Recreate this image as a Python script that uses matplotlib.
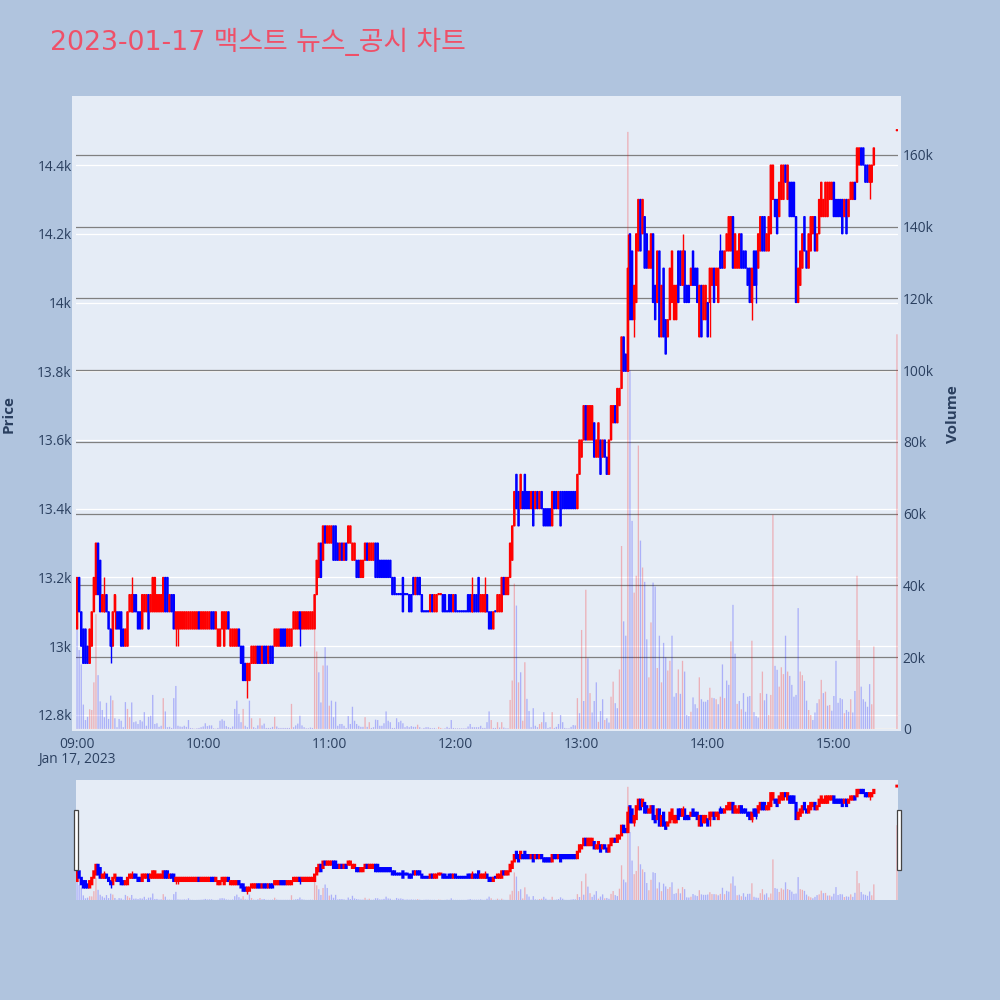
import matplotlib
matplotlib.use("Agg")
import matplotlib.pyplot as plt
from matplotlib.patches import Rectangle

# one candle per minute after 09:00, last one is the 15:30 closing auction
minutes = list(range(380)) + [390]

opens = [
    13050,13200,13100,13050,13050,13000,12950,13000,13100,13150,
    13300,13250,13100,13100,13150,13100,13050,13000,13100,13100,
    13100,13100,13050,13000,13000,13100,13100,13150,13150,13100,
    13100,13050,13100,13100,13150,13100,13100,13100,13100,13100,
    13100,13100,13200,13200,13100,13150,13150,13050,13050,13050,
    13050,13050,13050,13050,13050,13050,13050,13050,13100,13050,
    13050,13050,13050,13050,13100,13100,13050,13000,13000,13050,
    13000,13050,13100,13000,13000,13000,13000,13050,13000,13000,
    12950,12900,12900,12950,12950,12950,13000,13000,12950,13000,
    13000,12950,13000,13000,13000,13000,13000,13050,13050,13050,
    13000,13000,13000,13050,13050,13050,13100,13050,13050,13050,
    13050,13050,13050,13050,13150,13200,13300,13250,13350,13300,
    13300,13300,13350,13350,13300,13250,13300,13250,13300,13300,
    13300,13250,13250,13250,13250,13200,13200,13250,13300,13250,
    13250,13250,13300,13300,13250,13250,13250,13250,13250,13250,
    13200,13200,13150,13150,13150,13200,13150,13150,13150,13150,
    13200,13150,13200,13200,13150,13100,13100,13100,13100,13150,
    13100,13100,13150,13150,13150,13150,13100,13150,13150,13100,
    13150,13100,13100,13100,13100,13100,13150,13150,13100,13150,
    13150,13200,13100,13100,13100,13150,13100,13100,13050,13100,
    13100,13100,13100,13200,13150,13150,13200,13250,13350,13500,
    13450,13400,13450,13500,13450,13450,13400,13450,13400,13450,
    13400,13450,13400,13400,13400,13400,13350,13450,13450,13400,
    13450,13450,13450,13450,13450,13450,13450,13450,13400,13500,
    13550,13600,13700,13600,13600,13600,13650,13550,13550,13600,
    13550,13600,13550,13500,13600,13650,13700,13650,13700,13750,
    13900,13850,13800,14200,14150,13950,14000,14150,14300,14200,
    14250,14200,14100,14100,14200,14050,14000,14150,13900,14100,
    13950,13900,13950,14000,13950,13950,14150,14150,14050,14150,
    14050,14050,14050,14150,14100,14100,13900,14050,13950,13950,
    14000,14000,14050,14100,14050,14000,14150,14150,14100,14150,
    14150,14150,14250,14100,14100,14100,14200,14150,14150,14100,
    14100,14000,14150,14150,14100,14150,14250,14250,14150,14150,
    14200,14300,14300,14300,14250,14300,14300,14400,14300,14350,
    14350,14350,14250,14000,14050,14100,14250,14150,14100,14150,
    14200,14250,14150,14200,14250,14250,14250,14250,14300,14300,
    14350,14300,14300,14300,14300,14250,14300,14250,14300,14300,
    14350,14350,14400,14450,14450,14400,14400,14350,14350,14400,
    14500]

closes = [
    13200,13100,13000,12950,12950,12950,13050,13100,13200,13300,
    13150,13100,13150,13150,13100,13050,13000,13100,13150,13050,
    13050,13000,13000,13050,13100,13150,13150,13100,13100,13050,
    13050,13150,13150,13150,13050,13150,13200,13200,13150,13150,
    13150,13200,13100,13100,13150,13100,13050,13100,13100,13100,
    13100,13100,13100,13100,13100,13100,13100,13100,13050,13100,
    13100,13100,13100,13100,13050,13050,13100,13050,13050,13100,
    13100,13100,13050,13050,13050,13050,13050,13000,12950,12900,
    12900,12950,12950,13000,13000,13000,12950,12950,13000,12950,
    12950,13000,12950,12950,13050,13050,13050,13000,13000,13000,
    13050,13050,13050,13100,13100,13100,13050,13100,13100,13100,
    13100,13100,13100,13150,13250,13300,13200,13350,13300,13350,
    13350,13350,13250,13250,13250,13300,13250,13300,13250,13350,
    13350,13300,13300,13200,13200,13250,13250,13300,13250,13300,
    13300,13300,13200,13200,13200,13200,13200,13200,13200,13200,
    13150,13150,13150,13150,13150,13100,13150,13150,13100,13100,
    13150,13200,13150,13150,13100,13100,13100,13100,13150,13100,
    13150,13150,13150,13150,13100,13100,13100,13100,13100,13150,
    13100,13100,13100,13100,13100,13100,13100,13100,13150,13100,
    13100,13100,13150,13150,13150,13100,13050,13050,13100,13100,
    13150,13150,13200,13150,13200,13200,13300,13350,13450,13400,
    13350,13500,13400,13400,13400,13400,13450,13350,13450,13400,
    13450,13400,13350,13350,13350,13350,13450,13400,13400,13450,
    13350,13400,13400,13400,13400,13400,13400,13400,13500,13600,
    13600,13700,13600,13700,13700,13700,13550,13600,13650,13500,
    13600,13550,13500,13600,13700,13700,13650,13750,13750,13900,
    13800,13800,14100,13950,13950,14050,14200,14300,14150,14300,
    14100,14100,14150,14200,14000,13950,14150,13900,14050,13900,
    13850,13950,14100,14150,14050,14050,14000,14050,14150,14000,
    14000,14000,14100,14050,14050,14000,14050,13900,14050,14050,
    13900,14100,14100,14000,14100,14100,14100,14100,14150,14200,
    14250,14250,14100,14200,14150,14200,14100,14100,14100,14050,
    14000,14100,14050,14050,14200,14250,14150,14150,14200,14250,
    14400,14400,14250,14200,14350,14400,14400,14350,14400,14250,
    14250,14250,14000,14100,14150,14200,14150,14100,14200,14250,
    14250,14150,14200,14300,14350,14300,14350,14350,14350,14350,
    14250,14250,14250,14250,14200,14300,14200,14300,14350,14350,
    14300,14450,14450,14400,14400,14350,14350,14400,14400,14450,
    14500]

# only the wicks that stick out of the body
wick_minutes = [13, 16, 18, 26, 47, 48, 81, 106, 188, 194, 262, 265, 288, 301, 306, 321, 323, 377]
wick_prices = [13200, 12950, 13050, 13200, 13000, 13000, 12850, 13000, 13200, 13200,
               14200, 13900, 14200, 13900, 14200, 13950, 14000, 14300]

# volume in thousands
volumes = [
    29,22,18,6.8,2.5,3.4,5.5,5.3,13,32,
    15,7.7,5.3,3.3,7.3,2.8,9.3,8,3,.5,
    2.8,2.3,.5,7.5,5.6,3.3,7.4,1.9,2.1,1.4,
    2.5,2.1,4.7,.9,3.4,3.7,9.5,1.4,1.6,.6,
    .9,8.6,4.9,.5,.6,.3,8.6,12,.9,.7,
    .6,.9,.6,2.5,.3,.2,.1,.2,.3,.5,
    .7,1.6,.8,1,1,.2,.1,.3,2.3,2.7,
    2.3,.8,.5,.3,.7,5.6,7.9,4.2,1.9,5.6,
    .9,.5,7.9,3,.5,.2,1,3,1,1.5,
    .3,.3,.3,.6,3.4,.7,.3,.3,.3,.3,
    .3,.3,7,.5,1,1.5,3.7,1,.5,.2,
    .2,.4,.3,27.6,21.6,15.8,7.4,17.7,22.8,17.7,
    6.5,7.9,3.3,7.6,.9,1.4,1.4,.9,.3,3.6,
    1.4,6.2,2.3,1.4,.9,.6,.6,3.3,.6,1.9,
    .3,.5,2.6,2.5,.9,.9,1.6,4.9,2.3,1.9,
    .3,.3,3,1.9,2.3,1.6,.5,.8,.5,.8,
    .6,.6,1.2,.5,.1,.3,.5,.5,.3,.2,
    .3,.1,.6,.3,.1,.2,.6,.3,2.5,.3,
    .2,.2,.2,.2,.2,.2,.7,1.4,.5,.5,
    .5,.5,.9,.3,.3,1.9,4.9,2.5,.3,.3,
    1.9,.4,1.9,.4,.2,.2,8.1,13.5,40.5,34.4,
    13,15.8,2.3,18.6,8.4,5,.5,5.8,.9,.5,
    1.4,1.9,4.7,1.9,.3,.5,4.7,.3,.6,1.4,
    3.9,1.9,.3,.2,.2,.6,1.1,1,8.6,4.4,
    27.6,7.8,38.8,19.7,10,4.6,7.8,13,2,5,
    8.3,2.5,3,1.8,9,13.2,7.2,5.8,16.6,51,
    30,26,166.4,100,58,38,42.7,79,52.5,45,
    41,25,14.4,29.7,40.8,39.7,17,26,13,24,
    20,16.3,19,26,9,10,16.6,9.8,19,16,
    3.9,3.6,4.8,8.8,6.9,5.8,14.4,8.3,7.6,7.6,
    8.1,11.5,8.7,8.6,8.3,6.9,9,18,8.6,13.5,
    12.3,24.4,34.6,21,7,7.8,5.5,10,4.8,9,
    9.2,24.6,4.7,3.6,3.2,10,16,8,9.8,3.9,
    9.5,59.7,17.6,16.5,11.8,17.2,15.3,26,16,14.8,
    12.3,9,9.5,33.7,16,15,13.4,7.9,5.3,3.9,
    2.5,4.6,7.2,8.3,13.7,10,10.4,6.5,6.7,5.1,
    9.2,19,7.3,8.6,8.3,4.4,5.3,4.8,8.3,4.6,
    10.6,42.7,24.8,11.8,8.3,7.6,6.2,12.5,6.9,23,
    110]

# bars that are pink in the picture, the rest are blue
red_volume_minutes = [6, 7, 8, 9, 17, 24, 25, 41, 79, 83, 87, 94, 102, 113, 114, 117, 120, 137, 139,
                      162, 172, 173, 197, 200, 202, 206, 207, 208, 210, 212, 213, 220, 221, 226,
                      238, 240, 242, 244, 248, 251, 254, 255, 258, 259, 262, 265, 266, 267, 269,
                      272, 273, 276, 278, 281, 282, 286, 288, 292, 296, 301, 302, 304, 306, 308,
                      311, 314, 316, 321, 325, 326, 329, 330, 331, 334, 335, 336, 338, 344, 345,
                      348, 349, 353, 354, 356, 358, 365, 368, 371, 372, 378, 379, 390]

price_ticks = [12800, 13000, 13200, 13400, 13600, 13800, 14000, 14200, 14400]
price_labels = ["12.8k", "13k", "13.2k", "13.4k", "13.6k", "13.8k", "14k", "14.2k", "14.4k"]
volume_ticks = [0, 20, 40, 60, 80, 100, 120, 140, 160]
volume_labels = ["0", "20k", "40k", "60k", "80k", "100k", "120k", "140k", "160k"]
time_ticks = [0, 60, 120, 180, 240, 300, 360]
time_labels = ["09:00", "10:00", "11:00", "12:00", "13:00", "14:00", "15:00"]

PAPER = "#B0C4DE"
PLOT_BG = "#E5ECF6"
TEXT = "#2a3f5f"
TICK_PT = 9.9

plt.rcParams['font.family'] = ['Open Sans', 'Noto Sans CJK KR', 'DejaVu Sans']

fig = plt.figure(figsize=(10, 10), dpi=100, facecolor=PAPER)


def box(left, top, right, bottom):
    # pixel box to figure fractions
    return [left / 1000, 1 - bottom / 1000, (right - left) / 1000, (bottom - top) / 1000]


def draw_candles(ax, edge=0.9, flat=3):
    wick_lookup = dict(zip(wick_minutes, wick_prices))
    for m, o, c in zip(minutes, opens, closes):
        up = c > o or (c == o and m in red_volume_minutes)
        col = "#FF0000" if up else "#0000FF"
        # flat candles still show as a small dot
        h = max(abs(c - o), flat)
        ax.bar(m, h, bottom=min(o, c), width=0.6, color=col, edgecolor=col, linewidth=edge, snap=False)
        if m in wick_lookup:
            ax.vlines(m, min(wick_lookup[m], o, c), max(wick_lookup[m], o, c), color=col, linewidth=1.0)


def draw_volume(ax):
    cols = ["#FF0000" if m in red_volume_minutes else "#0000FF" for m in minutes]
    ax.bar(minutes, volumes, width=0.62, color=cols, alpha=0.25, linewidth=0, snap=False)


def setup_limits(ax, ylim):
    ax.set_xlim(-0.5, 390.5)
    ax.set_ylim(*ylim)


PRICE_LIM = (12759, 14601)
VOLUME_LIM = (0, 176.4)

# the plot background is a little wider than the axes
bg = fig.add_axes(box(72, 96, 901, 731), facecolor=PLOT_BG)
bg.set_xticks([])
bg.set_yticks([])
for s in bg.spines.values():
    s.set_visible(False)

# layers: white price grid, then grey grid and volume, then candles
ax = fig.add_axes(box(76, 96, 898, 729), facecolor="none")
setup_limits(ax, PRICE_LIM)
ax.set_yticks(price_ticks)
ax.set_yticklabels(price_labels)
ax.set_xticks(time_ticks)
ax.set_xticklabels(time_labels)
ax.tick_params(axis="both", length=0, labelsize=TICK_PT, labelcolor=TEXT)
ax.tick_params(axis="y", pad=3)
ax.tick_params(axis="x", pad=6)
ax.yaxis.grid(True, color="white", linewidth=0.9)
ax.set_axisbelow(True)
for s in ax.spines.values():
    s.set_visible(False)

ax_vol = ax.twinx()
setup_limits(ax_vol, VOLUME_LIM)
ax_vol.set_yticks(volume_ticks)
ax_vol.set_yticklabels(volume_labels)
ax_vol.tick_params(axis="y", length=0, labelsize=TICK_PT, labelcolor=TEXT, pad=3.5)
ax_vol.yaxis.grid(True, color="#808080", linewidth=0.9)
ax_vol.set_axisbelow(True)
for s in ax_vol.spines.values():
    s.set_visible(False)
ax_vol.axhline(0, color="white", linewidth=1.5, zorder=0)
draw_volume(ax_vol)

ax_candle = fig.add_axes(box(76, 96, 898, 729), facecolor="none")
setup_limits(ax_candle, PRICE_LIM)
ax_candle.axis("off")
draw_candles(ax_candle)

# range slider at the bottom, same picture in small
slider = fig.add_axes(box(76, 780, 898, 900), facecolor=PLOT_BG)
setup_limits(slider, PRICE_LIM)
slider.set_xticks([])
slider.set_yticks([])
for s in slider.spines.values():
    s.set_visible(False)
slider_vol = slider.twinx()
setup_limits(slider_vol, VOLUME_LIM)
slider_vol.set_yticks([])
for s in slider_vol.spines.values():
    s.set_visible(False)
draw_volume(slider_vol)
slider_candle = fig.add_axes(box(76, 780, 898, 900), facecolor="none")
setup_limits(slider_candle, PRICE_LIM)
slider_candle.axis("off")
draw_candles(slider_candle, edge=1.4, flat=15)

for left in (73.5, 896.5):
    fig.add_artist(Rectangle((left / 1000, 1 - 870 / 1000), 4 / 1000, 60 / 1000, transform=fig.transFigure,
                             facecolor="white", edgecolor="#444444", linewidth=0.9, zorder=10))

fig.text(50 / 1000, 1 - 50 / 1000, "2023-01-17 맥스트 뉴스_공시 차트", color="#EF5068", fontsize=19.3,
         family=['DejaVu Sans', 'Noto Sans CJK KR'], ha="left", va="baseline")
fig.text(77 / 1000, 1 - 759 / 1000, "Jan 17, 2023", color=TEXT, fontsize=TICK_PT, ha="center", va="center")
fig.text(9 / 1000, 1 - 414 / 1000, "Price", color=TEXT, fontsize=11, fontweight="bold", rotation=90,
         ha="center", va="center")
fig.text(953 / 1000, 1 - 414 / 1000, "Volume", color=TEXT, fontsize=11, fontweight="bold", rotation=90,
         ha="center", va="center")

fig.savefig("out.png", dpi=100, facecolor=PAPER)
